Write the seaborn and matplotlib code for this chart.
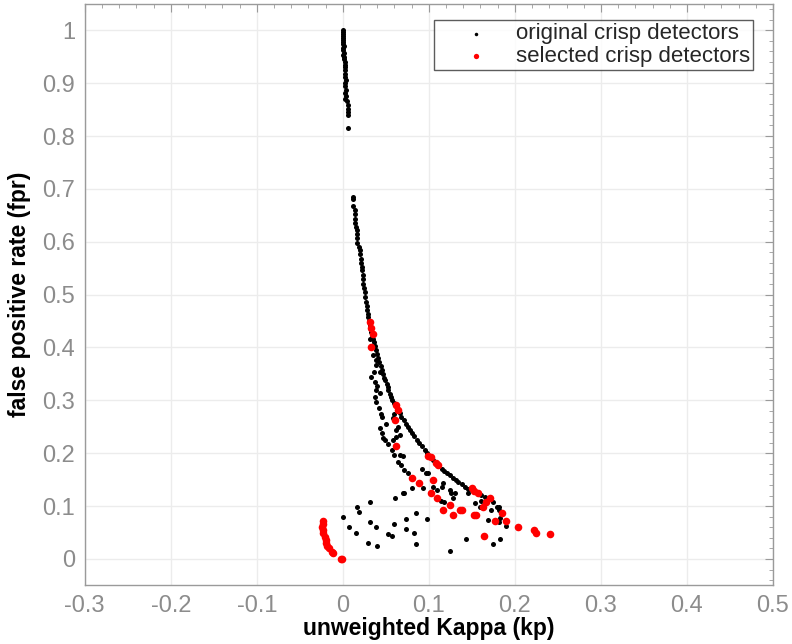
import matplotlib
matplotlib.use("Agg")
import matplotlib.pyplot as plt
from matplotlib.ticker import MultipleLocator
import seaborn as sns
import pandas as pd

# ---- data ----
orig_vertical_x = [0.000, 0.000, 0.000, 0.000, 0.000, 0.000, 0.000, 0.000, 0.001, 0.000,
                   0.000, 0.001, 0.000, 0.001, 0.001, 0.002, 0.003, 0.003, 0.003, 0.003,
                   0.003, 0.004, 0.003, 0.003, 0.004, 0.003, 0.004, 0.003, 0.005, 0.006,
                   0.006, 0.006, 0.006, 0.006]
orig_vertical_y = [1.000, 0.997, 0.993, 0.990, 0.986, 0.982, 0.978, 0.974, 0.970, 0.966,
                   0.962, 0.958, 0.954, 0.950, 0.945, 0.940, 0.935, 0.930, 0.924, 0.918,
                   0.912, 0.906, 0.900, 0.894, 0.888, 0.882, 0.876, 0.870, 0.866, 0.858,
                   0.852, 0.846, 0.840, 0.815]

orig_main_x = [0.012, 0.012, 0.012, 0.014, 0.014, 0.014, 0.014, 0.015, 0.016, 0.016,
               0.017, 0.017, 0.019, 0.020, 0.020, 0.021, 0.021, 0.022, 0.022, 0.023,
               0.024, 0.024, 0.025, 0.026, 0.026, 0.027, 0.028, 0.028, 0.029, 0.029,
               0.030, 0.031, 0.032, 0.033, 0.034, 0.035, 0.036, 0.037, 0.039, 0.040,
               0.041, 0.042, 0.044, 0.045, 0.047, 0.048, 0.049, 0.051, 0.052, 0.053,
               0.055, 0.056, 0.057, 0.059, 0.062, 0.064, 0.066, 0.068, 0.071, 0.074,
               0.076, 0.078, 0.080, 0.083, 0.086, 0.089, 0.092, 0.095, 0.098, 0.101,
               0.105, 0.108, 0.111, 0.115, 0.118, 0.121, 0.124, 0.128, 0.131, 0.134,
               0.138, 0.142, 0.146, 0.150, 0.154, 0.157, 0.161, 0.165, 0.170, 0.175,
               0.179, 0.182, 0.185]
orig_main_y = [0.685, 0.680, 0.667, 0.660, 0.652, 0.643, 0.635, 0.628, 0.622, 0.615,
               0.607, 0.597, 0.590, 0.584, 0.576, 0.568, 0.560, 0.552, 0.546, 0.538,
               0.530, 0.520, 0.512, 0.505, 0.495, 0.487, 0.478, 0.470, 0.463, 0.457,
               0.450, 0.443, 0.437, 0.430, 0.423, 0.416, 0.410, 0.403, 0.395, 0.388,
               0.380, 0.373, 0.365, 0.357, 0.350, 0.343, 0.338, 0.331, 0.325, 0.319,
               0.312, 0.306, 0.301, 0.295, 0.289, 0.282, 0.276, 0.269, 0.263, 0.256,
               0.250, 0.244, 0.238, 0.232, 0.225, 0.219, 0.213, 0.206, 0.200, 0.194,
               0.187, 0.182, 0.177, 0.171, 0.166, 0.162, 0.159, 0.153, 0.149, 0.146,
               0.142, 0.137, 0.133, 0.131, 0.127, 0.124, 0.121, 0.117, 0.113, 0.108,
               0.099, 0.093, 0.086]

orig_inner_x = [0.031, 0.035, 0.039, 0.038, 0.036, 0.043, 0.033, 0.037, 0.040, 0.039,
                0.043, 0.037, 0.038, 0.042, 0.044, 0.045, 0.050, 0.043, 0.045, 0.047,
                0.049, 0.053, 0.057, 0.060, 0.058, 0.064, 0.062, 0.066, 0.062, 0.058,
                0.060, 0.066, 0.064, 0.068, 0.070, 0.071, 0.076, 0.092, 0.097, 0.099,
                0.080, 0.093, 0.070, 0.110, 0.105, 0.115, 0.117, 0.124, 0.126, 0.128,
                0.130, 0.146, 0.114, 0.118, 0.154, 0.161, 0.159, 0.172, 0.181, 0.183,
                0.182, 0.169, 0.190, 0.143, 0.183, 0.174, 0.124]
orig_inner_y = [0.417, 0.386, 0.376, 0.367, 0.354, 0.354, 0.345, 0.335, 0.327, 0.319,
                0.313, 0.307, 0.297, 0.285, 0.275, 0.268, 0.256, 0.247, 0.238, 0.228,
                0.225, 0.218, 0.206, 0.275, 0.266, 0.250, 0.244, 0.234, 0.231, 0.225,
                0.197, 0.197, 0.184, 0.178, 0.195, 0.168, 0.162, 0.171, 0.163, 0.162,
                0.134, 0.134, 0.125, 0.130, 0.137, 0.137, 0.143, 0.130, 0.125, 0.115,
                0.124, 0.124, 0.110, 0.108, 0.105, 0.110, 0.099, 0.093, 0.099, 0.077,
                0.069, 0.074, 0.062, 0.038, 0.038, 0.028, 0.015]

orig_low_x = [0.000, 0.017, 0.019, 0.031, 0.007, 0.015, 0.031, 0.038, 0.029, 0.040,
              0.052, 0.057, 0.059, 0.073, 0.073, 0.083, 0.085, 0.085, 0.098, 0.061,
              0.071]
orig_low_y = [0.079, 0.099, 0.088, 0.107, 0.060, 0.050, 0.069, 0.060, 0.031, 0.024,
              0.047, 0.043, 0.066, 0.076, 0.056, 0.050, 0.086, 0.028, 0.076, 0.115,
              0.124]

sel_x = [0.031, 0.033, 0.035, 0.033, 0.062, 0.064, 0.061, 0.062, 0.099, 0.103,
         0.108, 0.111, 0.080, 0.088, 0.105, 0.103, 0.110, 0.124, 0.117, 0.128,
         0.136, 0.139, 0.152, 0.155, 0.150, 0.153, 0.157, 0.171, 0.166, 0.163,
         0.185, 0.190, 0.177, 0.204, 0.222, 0.225, 0.241, 0.164,
         -0.023, -0.023, -0.024, -0.023, -0.023, -0.021, -0.020, -0.019, -0.018,
         -0.016, -0.013, -0.011, -0.002, -0.001]
sel_y = [0.448, 0.436, 0.425, 0.401, 0.291, 0.282, 0.263, 0.214, 0.195, 0.192,
         0.181, 0.178, 0.153, 0.143, 0.149, 0.124, 0.115, 0.102, 0.093, 0.083,
         0.093, 0.093, 0.083, 0.083, 0.135, 0.129, 0.125, 0.115, 0.108, 0.099,
         0.086, 0.072, 0.071, 0.060, 0.055, 0.050, 0.047, 0.043,
         0.072, 0.066, 0.060, 0.055, 0.050, 0.042, 0.036, 0.030, 0.025,
         0.020, 0.014, 0.011, 0.000, 0.000]

x_ticks = [-0.3, -0.2, -0.1, 0, 0.1, 0.2, 0.3, 0.4, 0.5]
x_tick_labels = ["-0.3", "-0.2", "-0.1", "0", "0.1", "0.2", "0.3", "0.4", "0.5"]
y_ticks = [0, 0.1, 0.2, 0.3, 0.4, 0.5, 0.6, 0.7, 0.8, 0.9, 1]
y_tick_labels = ["0", "0.1", "0.2", "0.3", "0.4", "0.5", "0.6", "0.7", "0.8", "0.9", "1"]

orig_df = pd.DataFrame({
    "kp": orig_vertical_x + orig_main_x + orig_inner_x + orig_low_x,
    "fpr": orig_vertical_y + orig_main_y + orig_inner_y + orig_low_y,
})
sel_df = pd.DataFrame({"kp": sel_x, "fpr": sel_y})

# ---- style ----
sns.set_theme(style="white")
plt.rcParams["font.family"] = ["Liberation Sans", "DejaVu Sans"]

fig = plt.figure(figsize=(7.92, 6.44), dpi=100)
ax = fig.add_axes([0.107, 0.091, 0.869, 0.903])

sns.scatterplot(data=orig_df, x="kp", y="fpr", ax=ax, color="black", s=13,
                linewidth=0, label="original crisp detectors", zorder=3)
sns.scatterplot(data=sel_df, x="kp", y="fpr", ax=ax, color="#ff0000", s=30,
                linewidth=0, label="selected crisp detectors", zorder=4)

ax.set_xlim(-0.3, 0.5)
ax.set_ylim(-0.05, 1.05)
ax.set_xticks(x_ticks)
ax.set_xticklabels(x_tick_labels)
ax.set_yticks(y_ticks)
ax.set_yticklabels(y_tick_labels)
ax.xaxis.set_minor_locator(MultipleLocator(0.02))
ax.yaxis.set_minor_locator(MultipleLocator(0.02))

ax.grid(True, which="major", color="#ececec", linewidth=1.0, zorder=0)
ax.set_axisbelow(True)
for sp in ax.spines.values():
    sp.set_color("#9a9a9a")
    sp.set_linewidth(1.0)
ax.tick_params(which="both", direction="in", top=True, right=True,
               color="#9a9a9a", labelcolor="#8c8c8c")
ax.tick_params(which="major", length=6, width=0.8, labelsize=17, pad=7)
ax.tick_params(which="minor", length=3, width=0.6)

ax.set_xlabel("unweighted Kappa (kp)", fontsize=16.5, fontweight="bold",
              color="black", labelpad=0)
ax.set_ylabel("false positive rate (fpr)", fontsize=16.5, fontweight="bold",
              color="black", labelpad=8)

leg = ax.legend(loc="upper right", bbox_to_anchor=(0.971, 0.972),
                borderaxespad=0, fontsize=16,
                frameon=True, fancybox=False, edgecolor="#333333",
                handletextpad=0.1, borderpad=0.15, labelspacing=0.05,
                markerscale=0.7, handlelength=3.4)
leg.get_frame().set_linewidth(1.0)

fig.savefig("out.png", dpi=100)
